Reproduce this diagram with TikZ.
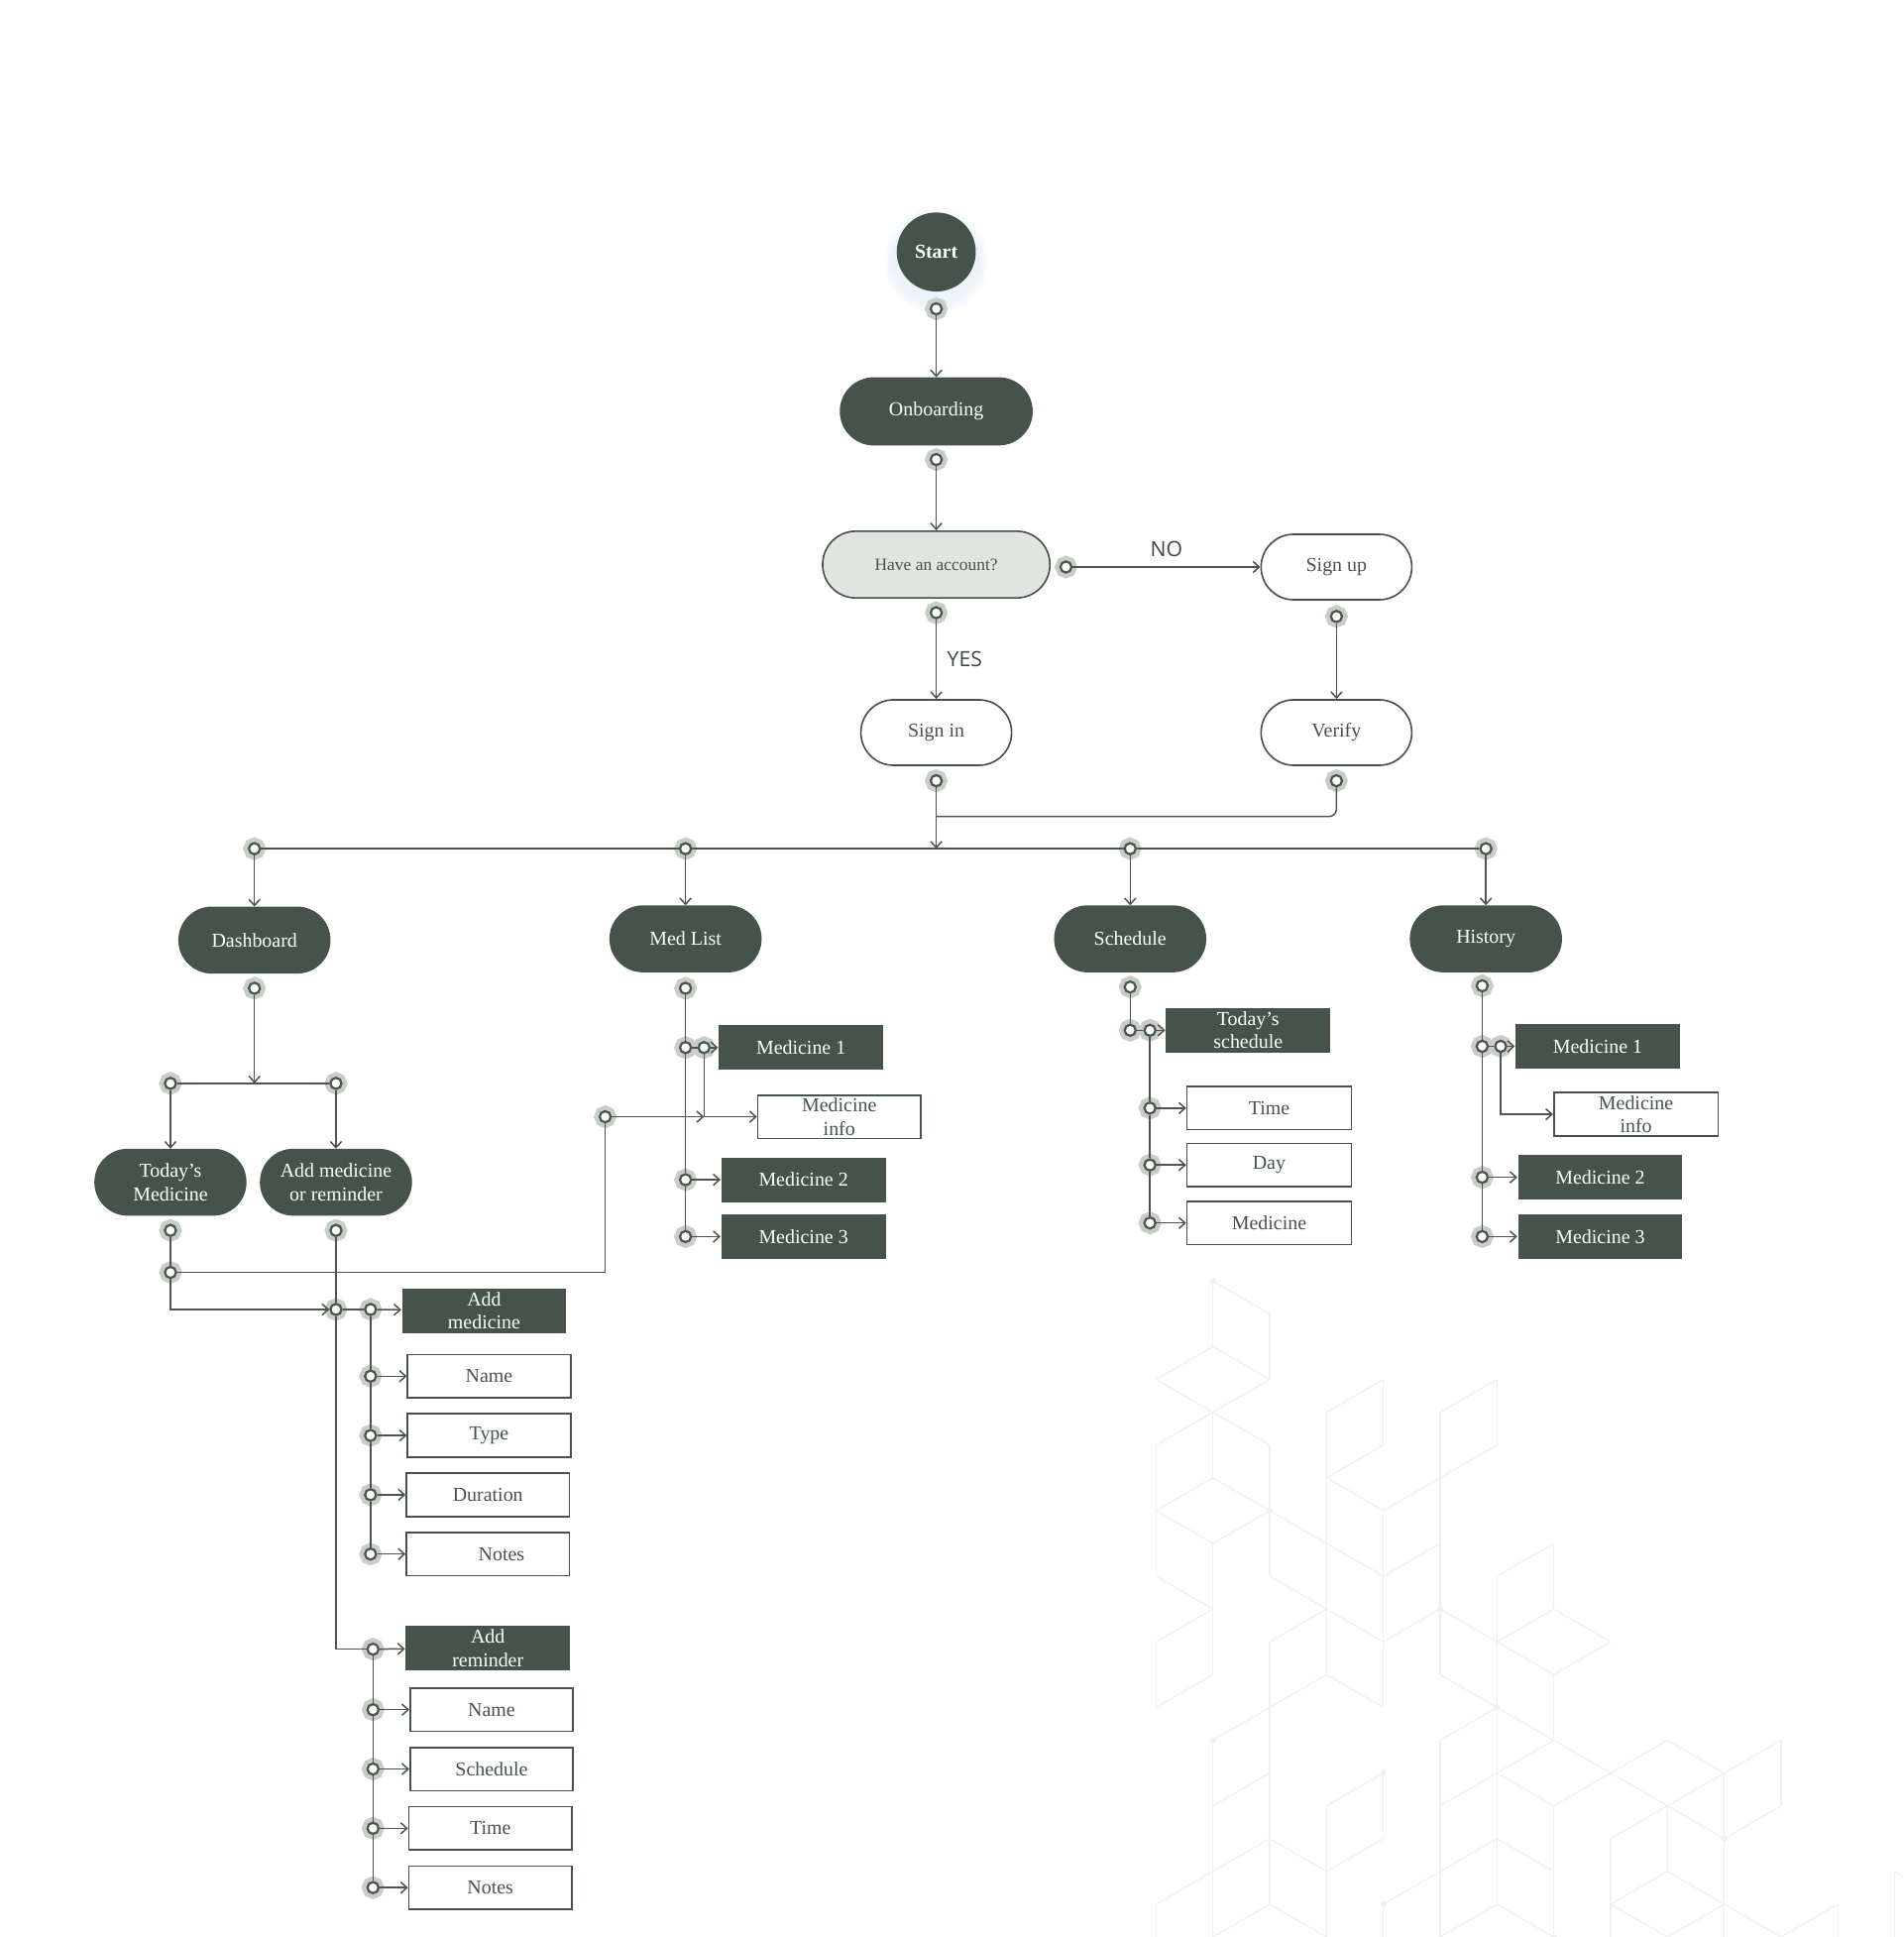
\documentclass[tikz,border=0pt]{standalone}
\usepackage{fontspec}
\setmainfont{Liberation Serif}
\newfontfamily\yesnofont{Open Sans}
\usetikzlibrary{arrows.meta,positioning}
\definecolor{pine}{HTML}{45534A}
\definecolor{wire}{HTML}{4A564E}
\definecolor{halo}{HTML}{C9CDC7}
\definecolor{mist}{HTML}{E2E4E0}
\definecolor{hexline}{HTML}{F0F0F0}
\definecolor{glow}{HTML}{E8F1FA}
\definecolor{answer}{HTML}{3E4640}
\newcommand{\nodefont}{\fontsize{16}{19}\selectfont}
\tikzset{%
	pill/.style     = {draw=pine, fill=pine, text=white, rectangle, rounded corners=26.4pt, minimum width=122pt, minimum height=53pt, align=center, font=\nodefont},
	pillopen/.style = {pill, fill=white, text=pine, line width=1.3pt},
	ask/.style      = {pillopen, fill=mist, minimum width=184pt, minimum height=54pt, rounded corners=26.9pt, font=\fontsize{14}{17}\selectfont},
	darkbox/.style  = {rectangle, fill=pine, text=white, minimum width=133pt, minimum height=36pt, inner sep=1pt, align=center, font=\nodefont},
	openbox/.style  = {rectangle, draw=pine, fill=white, text=pine, line width=1.3pt, minimum width=132pt, minimum height=35pt, inner sep=1pt, align=center, font=\nodefont},
	port/.style     = {circle, draw=wire, fill=white, line width=1.8pt, minimum size=9pt, inner sep=0pt, preaction={fill=halo, draw=halo, line width=9pt}},
	answer/.style   = {text=answer, font=\yesnofont\fontsize{17}{20}\selectfont},
	waypoint/.style = {coordinate},
}

\begin{document}
\begin{tikzpicture}[x=1pt,y=-1pt,>={Straight Barb[length=5pt,width=9pt]},line width=1.2pt,color=wire]
	\useasboundingbox (0,0) rectangle (1541,1568);
	
	% faint cube pattern, bottom right
	\begin{scope}
		\clip (0,0) rectangle (1541,1568);
		\foreach \ca/\ra/\cb/\rb in {1/0/1/2, 1/0/2/1, 2/1/2/3, 1/2/2/3, 1/2/0/3, 0/3/1/4, 2/3/1/4, 1/4/0/5, 0/5/0/7, 1/4/1/6, 1/4/2/5, 2/5/2/7, 1/6/0/7, 1/6/2/7, 0/7/1/8, 2/7/1/8, 0/7/0/9, 0/9/1/10, 1/8/1/12, 1/10/0/11, 0/11/0/13, 0/13/1/12, 2/7/3/8, 2/7/2/9, 2/9/3/10, 3/4/4/3, 4/3/4/5, 4/5/3/6, 3/4/3/12, 3/6/4/7, 4/7/5/6, 4/7/4/13, 3/8/4/9, 4/9/5/8, 5/4/6/3, 6/3/6/5, 6/5/5/6, 5/4/5/12, 3/10/4/11, 3/10/2/11, 4/11/5/10, 2/11/2/19, 3/12/2/13, 3/12/4/13, 2/13/1/14, 1/14/1/21, 2/15/1/16, 2/17/1/18, 2/17/3/18, 1/18/0/19, 0/19/0/21, 2/19/1/20, 2/19/3/20, 3/16/4/15, 4/15/4/17, 4/17/3/18, 3/16/3/21, 4/19/5/18, 4/19/4/21, 5/10/6/11, 6/9/7/8, 7/8/7/10, 7/10/6/11, 6/9/6/11, 7/10/8/11, 8/11/7/12, 6/11/7/12, 5/12/6/13, 6/11/6/19, 7/12/7/14, 6/13/7/14, 6/13/5/14, 5/14/5/21, 7/14/6/15, 7/14/8/15, 6/15/7/16, 8/15/7/16, 6/15/5/16, 7/16/7/21, 8/15/9/14, 9/14/10/15, 10/15/11/14, 11/14/11/16, 11/16/10/17, 8/15/9/16, 10/15/9/16, 9/16/10/17, 10/15/10/17, 9/16/8/17, 8/17/8/21, 9/16/9/18, 9/18/8/19, 9/18/10/19, 8/19/9/20, 10/19/9/20, 10/17/10/21, 10/19/11/20, 11/20/12/19, 12/19/12/21, 5/18/6/17, 6/17/7/18, 5/20/6/19, 6/19/7/20, 13/18/13/21, 13/18/14/19}
			\draw[hexline,line width=1pt] ({936+46*\ca},{1037+26.55*\ra}) -- ({936+46*\cb},{1037+26.55*\rb});
		\foreach \ca/\ra in {1/0,2/7,5/10,6/13,1/14,4/15,4/19,10/17,7/20}
			\fill[hexline] ({936+46*\ca},{1037+26.55*\ra}) circle (2.6pt);
	\end{scope}
	
	% start and sign in
	\foreach \r/\o in {42/0.3,39/0.45,36/0.6}
		\fill[glow,opacity=\o] (758,211) circle (\r pt);
	\node[circle,fill=pine,text=white,minimum size=64pt,inner sep=0pt,font=\nodefont\bfseries] (start) at (758,204) {Start};
	\node[port,node distance=46pt,below of=start] (p-start) {};
	\node[pill,minimum width=155pt,minimum height=54pt,rounded corners=26.9pt] (onb) at (758,333) {Onboarding};
	\node[port,node distance=39pt,below of=onb] (p-onb) {};
	\node[ask] (acc) at (758,457) {Have an account?};
	\node[port,node distance=39pt,below of=acc] (p-accb) {};
	\node[port] (p-accr) at (863,459) {};
	\node[pillopen] (signup) at (1082,459) {Sign up};
	\node[port,node distance=40pt,below of=signup] (p-signup) {};
	\node[pillopen] (signin) at (758,593) {Sign in};
	\node[port,node distance=39pt,below of=signin] (p-signin) {};
	\node[pillopen] (verify) at (1082,593) {Verify};
	\node[port,node distance=39pt,below of=verify] (p-verify) {};
	\node[waypoint] (jv) at (758,661) {};
	\node[waypoint] (jbus) at (758,687) {};
	
	\draw[->] (p-start) -- (onb);
	\draw[->] (p-onb) -- (acc);
	\draw[->] (p-accr) -- node[answer,above=4pt] (no) {NO} (signup);
	\draw[->] (p-accb) -- node[answer,right=5pt] (yes) {YES} (signin);
	\draw[->] (p-signup) -- (verify);
	\draw[rounded corners=6pt] (p-verify) |- (jv);
	\draw[->] (p-signin) -- (jbus);
	
	% main sections
	\node[port] (pb1) at (206,687) {};
	\node[port] (pb2) at (555,687) {};
	\node[port] (pb3) at (915,687) {};
	\node[port] (pb4) at (1203,687) {};
	\node[pill] (dash) at (206,761) {Dashboard};
	\node[pill] (medl) at (555,760) {Med List};
	\node[pill] (sched) at (915,760) {Schedule};
	\node[pill] (hist) at (1203,760) {History};
	\draw (pb1) -- (pb2) -- (pb3) -- (pb4);
	\draw[->] (pb1) -- (dash);
	\draw[->] (pb2) -- (medl);
	\draw[->] (pb3) -- (sched);
	\draw[->] (pb4) -- (hist);
	
	% dashboard
	\node[port,node distance=39pt,below of=dash] (p-dash) {};
	\node[waypoint] (jd) at (206,877) {};
	\node[port] (pd1) at (138,877) {};
	\node[port] (pd2) at (272,877) {};
	\node[pill] (today) at (138,957) {Today’s\\Medicine};
	\node[pill] (addmr) at (272,957) {Add medicine\\or reminder};
	\node[port,node distance=39pt,below of=today] (p-today) {};
	\node[port,node distance=39pt,below of=addmr] (p-addmr) {};
	\node[port] (p-tm) at (138,1030) {};
	\node[port] (p-add) at (272,1060) {};
	\node[port] (p-addm) at (300,1060) {};
	\node[darkbox] (addmed) at (392,1061) {Add\\medicine};
	\node[port] (p-rem) at (302,1335) {};
	\node[darkbox] (addrem) at (395,1334) {Add\\reminder};
	
	\draw[->] (p-dash) -- (jd);
	\draw (pd1) -- (pd2);
	\draw[->] (pd1) -- (today);
	\draw[->] (pd2) -- (addmr);
	\draw (p-today) -- (p-tm);
	\draw[->] (p-tm) |- (p-add);
	\draw (p-addmr) -- (p-add);
	\draw (p-add) -- (p-addm);
	\draw (p-add) |- (p-rem);
	\draw[->] (p-addm) -- (addmed);
	\draw[->] (p-rem) -- (addrem);
	
	\foreach \y/\x/\txt [count=\i] in {1114/396/Name, 1162/396/Type, 1210/395/Duration, 1258/395/{\hspace*{22pt}Notes}} {
		\node[port] (pa\i) at (300,\y) {};
		\node[openbox] (an\i) at (\x,\y) {\txt};
		\draw[->] (pa\i) -- (an\i);
	}
	\draw (p-addm) -- (pa1) -- (pa2) -- (pa3) -- (pa4);
	
	\foreach \y/\x/\txt [count=\i] in {1384/398/Name, 1432/398/Schedule, 1480/397/Time, 1528/397/Notes} {
		\node[port] (pr\i) at (302,\y) {};
		\node[openbox] (ar\i) at (\x,\y) {\txt};
		\draw[->] (pr\i) -- (ar\i);
	}
	\draw (p-rem) -- (pr1) -- (pr2) -- (pr3) -- (pr4);
	
	% med list
	\node[port,node distance=40pt,below of=medl] (p-med) {};
	\node[port] (pm0) at (555,848) {};
	\node[port] (pm1) at (570,848) {};
	\node[port] (pm2) at (555,955) {};
	\node[port] (pm3) at (555,1001) {};
	\node[port] (p-ml) at (490,904) {};
	\node[waypoint] (jm) at (570,904) {};
	\node[darkbox] (med1) at (648.5,848) {Medicine 1};
	\node[openbox] (minfo) at (679.5,904) {Medicine\\info};
	\node[darkbox] (med2) at (650.5,955) {Medicine 2};
	\node[darkbox] (med3) at (650.5,1001) {Medicine 3};
	
	\draw (p-tm) -| (p-ml);
	\draw (p-med) -- (pm0) -- (pm2) -- (pm3);
	\draw (pm0) -- (pm1);
	\draw[->] (pm1) -- (med1);
	\draw[->] (pm1) |- (minfo);
	\draw[->] (p-ml) -- (jm);
	\draw[->] (pm2) -- (med2);
	\draw[->] (pm3) -- (med3);
	
	% schedule
	\node[port,node distance=39pt,below of=sched] (p-sch) {};
	\node[port] (ps0) at (915,834) {};
	\node[port] (ps1) at (931,834) {};
	\node[darkbox] (todsch) at (1010.5,834) {Today’s\\schedule};
	\draw (p-sch) -- (ps0) -- (ps1);
	\draw[->] (ps1) -- (todsch);
	\foreach \y/\txt [count=\i] in {897/Time, 943/Day, 990/Medicine} {
		\node[port] (pt\i) at (931,\y) {};
		\node[openbox,minimum width=133pt] (sb\i) at (1027.5,\y) {\txt};
		\draw[->] (pt\i) -- (sb\i);
	}
	\draw (ps1) -- (pt1) -- (pt2) -- (pt3);
	
	% history
	\node[port] (p-hist) at (1200,798) {};
	\node[port] (ph0) at (1200,847) {};
	\node[port] (ph1) at (1215,847) {};
	\node[port] (ph2) at (1200,953) {};
	\node[port] (ph3) at (1200,1001) {};
	\node[darkbox] (hmed1) at (1293.5,847) {Medicine 1};
	\node[openbox,minimum width=133pt] (hinfo) at (1324.5,902) {Medicine\\info};
	\node[darkbox] (hmed2) at (1295.5,953) {Medicine 2};
	\node[darkbox] (hmed3) at (1295.5,1001) {Medicine 3};
	\draw (p-hist) -- (ph0) -- (ph2) -- (ph3);
	\draw (ph0) -- (ph1);
	\draw[->] (ph1) -- (hmed1);
	\draw[->] (ph1) |- (hinfo);
	\draw[->] (ph2) -- (hmed2);
	\draw[->] (ph3) -- (hmed3);
\end{tikzpicture}
\end{document}
